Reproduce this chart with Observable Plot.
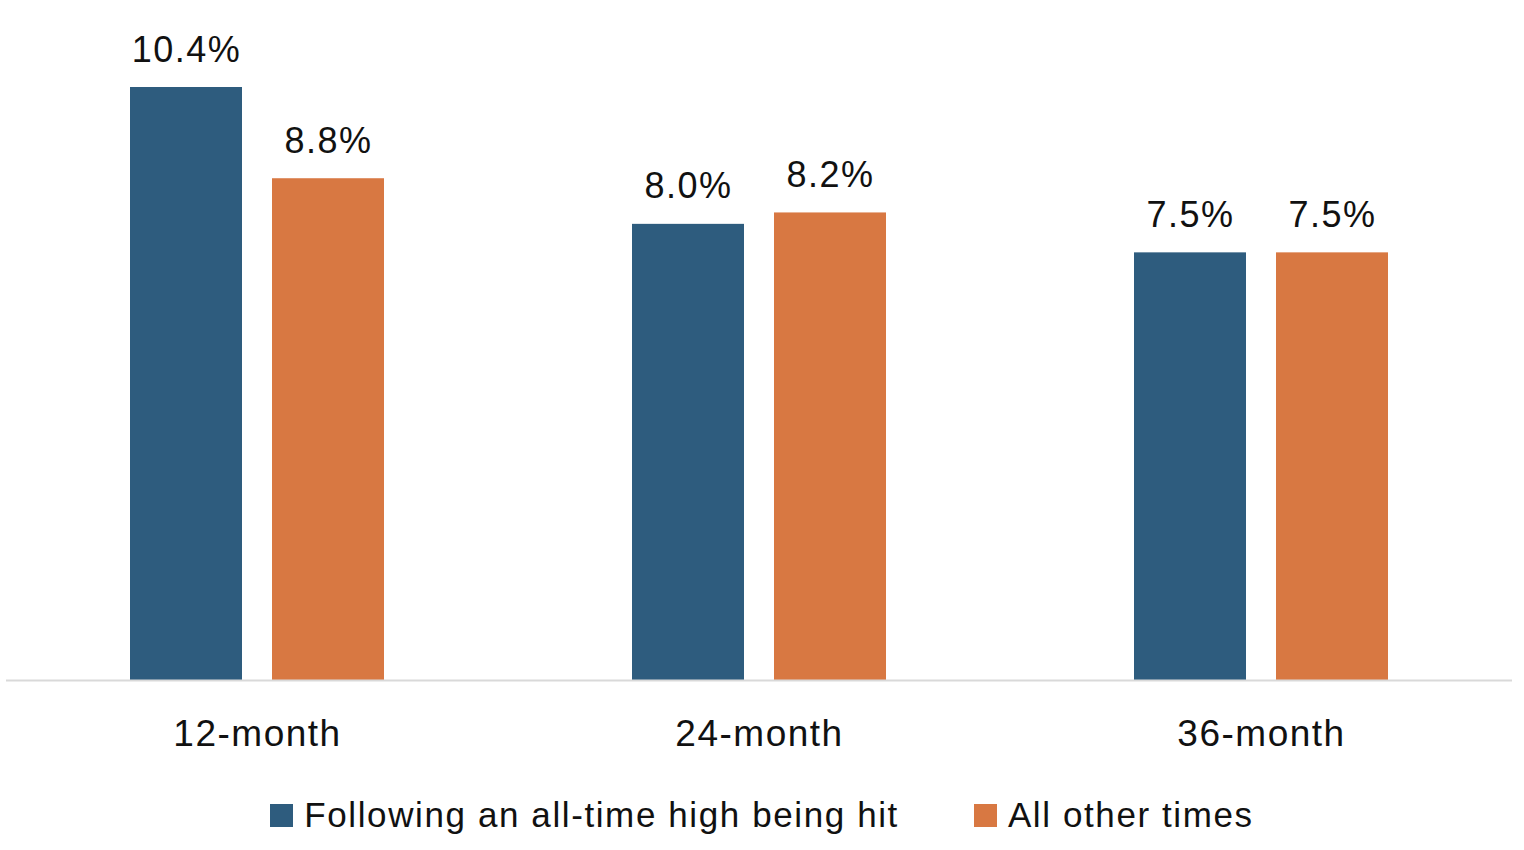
<!DOCTYPE html>
<html>
<head>
<meta charset="utf-8">
<script src="https://cdn.jsdelivr.net/npm/d3@7"></script>
<script src="https://cdn.jsdelivr.net/npm/@observablehq/plot@0.6"></script>
<style>
  html, body { margin: 0; padding: 0; background: #fff; }
  body { width: 1524px; height: 850px; overflow: hidden; font-family: "Liberation Sans", Arial, sans-serif; }
  #legend { display: flex; justify-content: center; align-items: center; margin-top: 15px; font-size: 35px; letter-spacing: 1.6px; color: #111; }
  .item { display: flex; align-items: center; }
  .sw { width: 23px; height: 23px; margin-right: 11px; }
  .item + .item { margin-left: 75px; }
  #chart svg text { letter-spacing: 1.5px; }
</style>
</head>
<body>
<div id="chart"></div>
<div id="legend"></div>
<script>
const periods = ["12-month", "24-month", "36-month"];
const seriesNames = ["Following an all-time high being hit", "All other times"];
const athValues = [10.4, 8.0, 7.5];
const otherValues = [8.8, 8.2, 7.5];
const colors = ["#2E5C7E", "#D87842"];

const data = [];
periods.forEach((p, i) => {
  data.push({period: p, series: seriesNames[0], value: athValues[i]});
  data.push({period: p, series: seriesNames[1], value: otherValues[i]});
});

const chart = Plot.plot({
  width: 1524,
  height: 780,
  marginLeft: 5,
  marginRight: 11,
  marginTop: 87,
  marginBottom: 100,
  style: {fontFamily: "Liberation Sans, Arial, sans-serif", color: "#111", background: "#fff"},
  fx: {domain: periods, padding: 0, label: null},
  x: {domain: seriesNames, paddingInner: 0.21, paddingOuter: 0.867, axis: null},
  y: {domain: [0, 10.4], axis: null},
  color: {domain: seriesNames, range: colors},
  marks: [
    Plot.barY(data, {fx: "period", x: "series", y: "value", fill: "series"}),
    Plot.text(data, {fx: "period", x: "series", y: "value", text: d => d3.format(".1f")(d.value) + "%", lineAnchor: "bottom", dy: -26, fontSize: 36, fill: "#111"}),
    Plot.ruleY([0], {stroke: "#d9d9d9", strokeWidth: 2}),
    Plot.axisFx({anchor: "bottom", tickSize: 0, tickPadding: 39, fontSize: 37, label: null})
  ]
});
document.getElementById("chart").appendChild(chart);

const legend = document.getElementById("legend");
seriesNames.forEach((name, i) => {
  const item = document.createElement("div");
  item.className = "item";
  const sw = document.createElement("div");
  sw.className = "sw";
  sw.style.background = colors[i];
  const t = document.createElement("span");
  t.textContent = name;
  item.appendChild(sw);
  item.appendChild(t);
  legend.appendChild(item);
});
</script>
</body>
</html>
